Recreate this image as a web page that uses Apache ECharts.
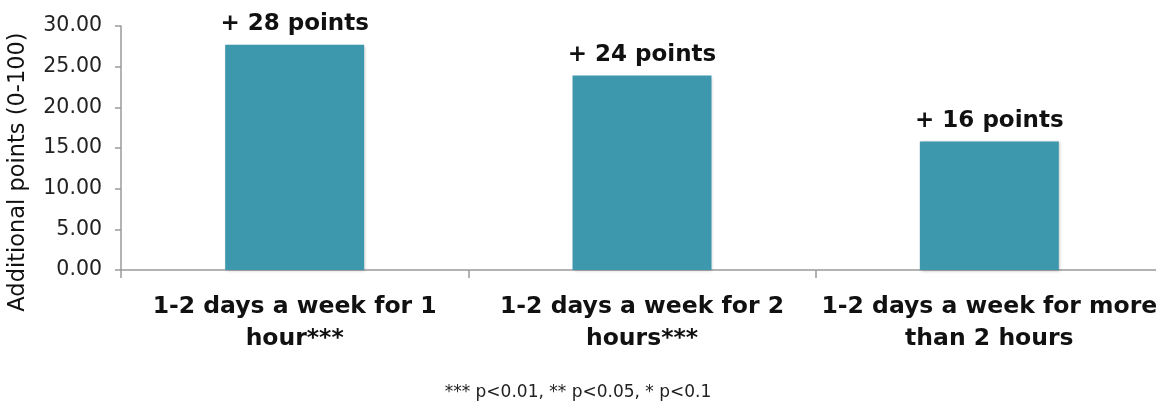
<!DOCTYPE html>
<html>
<head>
<meta charset="utf-8">
<script src="https://cdn.jsdelivr.net/npm/echarts@6/dist/echarts.min.js"></script>
<style>
html,body{margin:0;padding:0;background:#fff;}
#c{width:1156px;height:404px;}
</style>
</head>
<body>
<div id="c"></div>
<script>
const categories = ["1-2 days a week for 1\nhour***", "1-2 days a week for 2\nhours***", "1-2 days a week for more\nthan 2 hours"];
const values = [27.7, 23.9, 15.8];
const pointLabels = ["+ 28 points", "+ 24 points", "+ 16 points"];
const yTicks = [0, 5, 10, 15, 20, 25, 30];
const yAxisName = "Additional points (0-100)";
const footnote = "*** p<0.01, ** p<0.05, * p<0.1";

const font = "'DejaVu Sans', 'Liberation Sans', Arial, sans-serif";
const chart = echarts.init(document.getElementById('c'));
chart.setOption({
  animation: false,
  backgroundColor: '#fff',
  textStyle: { fontFamily: font },
  grid: { left: 121, right: -7, top: 26, bottom: 134, containLabel: false, outerBoundsMode: 'none' },
  graphic: [{
    type: 'text', left: 'center', top: 384,
    style: { text: footnote, font: "17px " + font, fill: '#222' }
  }],
  xAxis: {
    type: 'category',
    data: categories,
    axisLine: { lineStyle: { color: '#9a9a9a', width: 1.5 } },
    axisTick: { show: true, length: 8, lineStyle: { color: '#9a9a9a', width: 1.5 } },
    axisLabel: {
      interval: 0, margin: 21, color: '#111', fontSize: 23.5, fontWeight: 'bold',
      lineHeight: 32, fontFamily: font, hideOverlap: false
    }
  },
  yAxis: {
    type: 'value', min: yTicks[0], max: yTicks[yTicks.length - 1], interval: 5,
    name: yAxisName, nameLocation: 'middle', nameGap: 91, nameRotate: 90,
    nameTextStyle: { fontSize: 22.5, color: '#111', fontFamily: font, padding: [0, 48, 0, 0] },
    axisLine: { show: true, lineStyle: { color: '#9a9a9a', width: 1.5 } },
    axisTick: { show: true, length: 6, lineStyle: { color: '#9a9a9a', width: 1.5 } },
    splitLine: { show: false },
    axisLabel: {
      margin: 19, color: '#222', fontSize: 20.5, fontFamily: font,
      formatter: v => v.toFixed(2)
    }
  },
  series: [{
    type: 'bar',
    data: values,
    barWidth: '40%',
    itemStyle: { color: '#3D97AD', shadowColor: 'rgba(0,0,0,0.25)', shadowBlur: 3, shadowOffsetX: 1, shadowOffsetY: 1 },
    label: {
      show: true, position: 'top', distance: 9,
      color: '#111', fontSize: 23, fontWeight: 'bold', fontFamily: font,
      formatter: p => pointLabels[p.dataIndex]
    }
  }]
});
</script>
</body>
</html>
